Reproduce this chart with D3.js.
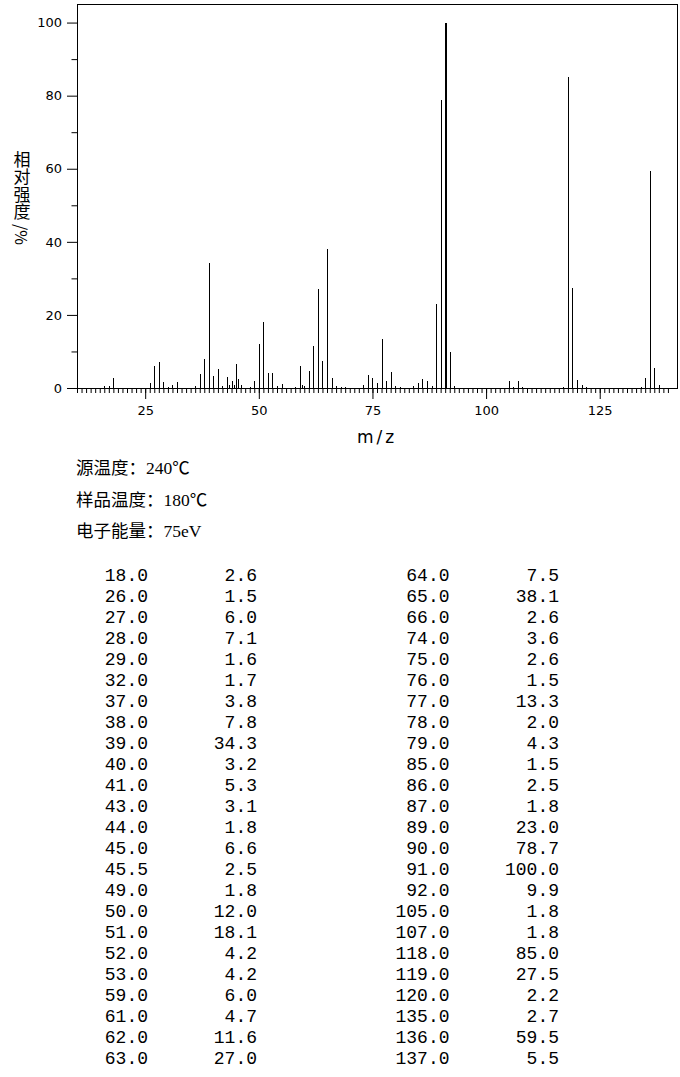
<!DOCTYPE html>
<html>
<head>
<meta charset="utf-8">
<script src="https://cdn.jsdelivr.net/npm/d3@7"></script>
<style>
  html, body { margin: 0; padding: 0; background: #fff; }
  svg { display: block; }
</style>
</head>
<body>
<div id="chart"></div>
<script>
// ---- Data ----
const tableMz  = [18.0, 26.0, 27.0, 28.0, 29.0, 32.0, 37.0, 38.0, 39.0, 40.0, 41.0, 43.0, 44.0, 45.0, 45.5, 49.0, 50.0, 51.0, 52.0, 53.0, 59.0, 61.0, 62.0, 63.0,
                  64.0, 65.0, 66.0, 74.0, 75.0, 76.0, 77.0, 78.0, 79.0, 85.0, 86.0, 87.0, 89.0, 90.0, 91.0, 92.0, 105.0, 107.0, 118.0, 119.0, 120.0, 135.0, 136.0, 137.0];
const tableInt = [2.6, 1.5, 6.0, 7.1, 1.6, 1.7, 3.8, 7.8, 34.3, 3.2, 5.3, 3.1, 1.8, 6.6, 2.5, 1.8, 12.0, 18.1, 4.2, 4.2, 6.0, 4.7, 11.6, 27.0,
                  7.5, 38.1, 2.6, 3.6, 2.6, 1.5, 13.3, 2.0, 4.3, 1.5, 2.5, 1.8, 23.0, 78.7, 100.0, 9.9, 1.8, 1.8, 85.0, 27.5, 2.2, 2.7, 59.5, 5.5];
// small unlisted peaks (estimated from the plot)
const minorMz  = [16, 17, 30, 31, 36, 42, 43.5, 44.5, 46, 48, 54, 55, 58, 59.5, 60, 67, 68, 69, 73, 80, 81, 84, 88, 93, 106, 108, 117, 121, 122, 134, 138];
const minorInt = [0.5, 0.6, 0.3, 0.7, 0.5, 0.6, 0.8, 0.9, 0.7, 0.4, 0.5, 1.0, 0.4, 0.9, 0.6, 0.6, 0.4, 0.4, 0.8, 0.6, 0.3, 0.5, 0.6, 0.6, 0.4, 0.4, 0.4, 0.7, 0.3, 0.4, 0.8];
const xMajorTicks = [25, 50, 75, 100, 125];
const yMajorTicks = [0, 20, 40, 60, 80, 100];
const yMinorTicks = [10, 30, 50, 70, 90];
const infoLabels = ["源温度：", "样品温度：", "电子能量："];
const infoValues = ["240℃", "180℃", "75eV"];
const xTitle = "m/z";
const yTitleChars = ["相", "对", "强", "度"];
const yTitleUnit = "/%";

// ---- Layout ----
const W = 680, H = 1077;
const svg = d3.select("#chart").append("svg").attr("width", W).attr("height", H)
  .style("background", "#fff");

const x = d3.scaleLinear().domain([10, 142]).range([77, 677]);
const y = d3.scaleLinear().domain([0, 105]).range([388, 4.3]);

const g = svg.append("g");

// x minor ticks
g.append("g").attr("transform", "translate(0,388)")
  .call(d3.axisBottom(x).tickValues(d3.range(10, 141)).tickSize(5).tickFormat(""));
// x major ticks
const xMajor = g.append("g").attr("transform", "translate(0,388)")
  .call(d3.axisBottom(x).tickValues(xMajorTicks).tickSize(11).tickFormat(d3.format("d")));
xMajor.selectAll("text").attr("y", 27).attr("dy", 0)
  .style("font-family", "'DejaVu Sans', sans-serif").style("font-size", "13px").attr("fill", "#000");

// y minor ticks
g.append("g").attr("transform", "translate(77,0)")
  .call(d3.axisLeft(y).tickValues(yMinorTicks).tickSize(5.5).tickFormat(""));
const yMajor = g.append("g").attr("transform", "translate(77,0)")
  .call(d3.axisLeft(y).tickValues(yMajorTicks).tickSize(10).tickPadding(5).tickFormat(d3.format("d")));
yMajor.selectAll("text")
  .style("font-family", "'DejaVu Sans', sans-serif").style("font-size", "13px").attr("fill", "#000");

g.selectAll(".domain").remove();
g.selectAll(".tick line").attr("stroke", "#000");

// frame
svg.append("rect").attr("x", 77.5).attr("y", 4.5).attr("width", 600).attr("height", 384)
  .attr("fill", "none").attr("stroke", "#000").attr("stroke-width", 1).attr("shape-rendering", "crispEdges");

// peaks
const peaks = tableMz.map((m, i) => ({ m, v: tableInt[i] }))
  .concat(minorMz.map((m, i) => ({ m, v: minorInt[i] })));
const maxV = d3.max(peaks, d => d.v);
svg.append("g").selectAll("line").data(peaks).join("line")
  .attr("x1", d => d.v === maxV ? Math.round(x(d.m)) + 1 : Math.round(x(d.m)) + 0.5)
  .attr("x2", d => d.v === maxV ? Math.round(x(d.m)) + 1 : Math.round(x(d.m)) + 0.5)
  .attr("y1", y(0))
  .attr("y2", d => y(d.v))
  .attr("stroke", "#000")
  .attr("stroke-width", d => d.v === maxV ? 2 : 1)
  .attr("shape-rendering", "crispEdges");

// axis titles
svg.append("text").attr("x", 377).attr("y", 443).attr("text-anchor", "middle")
  .style("font-family", "'DejaVu Sans', sans-serif").style("font-size", "17px")
  .style("letter-spacing", "3px").attr("fill", "#000").text(xTitle);

// vertical y title: upright CJK characters, rotated unit
const yt = svg.append("text").attr("text-anchor", "middle")
  .style("font-family", "'Noto Sans CJK SC', sans-serif").style("font-size", "17px").attr("fill", "#000");
yTitleChars.forEach((ch, i) => {
  yt.append("tspan").attr("x", 22).attr("y", 165.5 + i * 17.6).text(ch);
});
svg.append("text").attr("transform", "translate(22,224) rotate(90)")
  .attr("dominant-baseline", "central")
  .style("font-family", "'Noto Sans CJK SC', sans-serif").style("font-size", "16px").attr("fill", "#000")
  .text(yTitleUnit);

// info lines
const infoY = [474, 506, 537];
infoLabels.forEach((lab, i) => {
  const t = svg.append("text").attr("x", 76).attr("y", infoY[i])
    .style("font-size", "17.5px").attr("fill", "#000");
  t.append("tspan").style("font-family", "'Noto Sans CJK SC', sans-serif").text(lab);
  t.append("tspan").style("font-family", "'Liberation Serif', 'Noto Sans CJK SC', serif").text(infoValues[i]);
});

// table
const half = Math.ceil(tableMz.length / 2);
const colX = [[148, 257], [449.5, 559]];
const tbl = svg.append("g")
  .style("font-family", "'Liberation Mono', monospace").style("font-size", "18px").attr("fill", "#000");
tableMz.forEach((m, i) => {
  const c = i < half ? 0 : 1;
  const r = i < half ? i : i - half;
  const yy = 581 + 21 * r;
  tbl.append("text").attr("x", colX[c][0]).attr("y", yy).attr("text-anchor", "end").text(m.toFixed(1));
  tbl.append("text").attr("x", colX[c][1]).attr("y", yy).attr("text-anchor", "end").text(tableInt[i].toFixed(1));
});
</script>
</body>
</html>
